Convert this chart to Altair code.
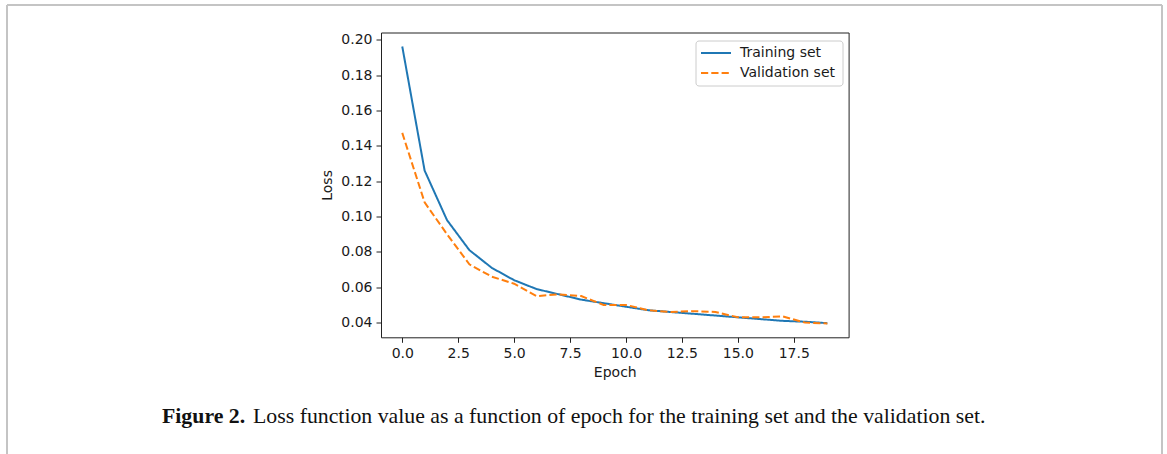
import altair as alt
import pandas as pd

epochs = list(range(20))
training = [0.1962, 0.126, 0.098, 0.081, 0.071, 0.064, 0.059, 0.056, 0.053, 0.051,
            0.049, 0.047, 0.046, 0.045, 0.044, 0.043, 0.042, 0.041, 0.0405, 0.0397]
validation = [0.1473, 0.108, 0.090, 0.073, 0.066, 0.062, 0.055, 0.056, 0.055, 0.050,
              0.050, 0.047, 0.046, 0.0465, 0.046, 0.043, 0.043, 0.0435, 0.040, 0.0395]
series = ["Training set", "Validation set"]
colors = ["#1f77b4", "#ff7f0e"]
dashes = [[1, 0], [7.2, 3.1]]
x_ticks = [0.0, 2.5, 5.0, 7.5, 10.0, 12.5, 15.0, 17.5]
y_ticks = [0.04, 0.06, 0.08, 0.10, 0.12, 0.14, 0.16, 0.18, 0.20]
caption_bold = "Figure 2."
caption_rest = "Loss function value as a function of epoch for the training set and the validation set."

df = pd.DataFrame({
    "Epoch": epochs * 2,
    "Loss": training + validation,
    "Series": [series[0]] * len(epochs) + [series[1]] * len(epochs),
})

W, H = 467.6, 304.8
PL, PT = 381, 32.5
TXT = "#1a1a1a"
FS = 14

lines = alt.Chart(df).mark_line(strokeWidth=2).encode(
    x=alt.X("Epoch:Q",
            scale=alt.Scale(domain=[-0.95, 19.95], nice=False, zero=False),
            axis=alt.Axis(values=x_ticks, format=".1f", title="Epoch",
                          titleY=28, titleBaseline="top")),
    y=alt.Y("Loss:Q",
            scale=alt.Scale(domain=[0.0317, 0.2041], nice=False, zero=False),
            axis=alt.Axis(values=y_ticks, format=".2f", title="Loss",
                          titleX=-47, titleY=H / 2, titleBaseline="bottom")),
    color=alt.Color("Series:N", scale=alt.Scale(domain=series, range=colors), legend=None),
    strokeDash=alt.StrokeDash("Series:N", scale=alt.Scale(domain=series, range=dashes),
                              legend=None),
)

one = pd.DataFrame({"a": [0]})
frame_color = "#c4c4c4"
top_rule = alt.Chart(one).mark_rule(color=frame_color, strokeWidth=2).encode(
    x=alt.value(-374), x2=alt.value(781), y=alt.value(-27.5))
left_rule = alt.Chart(one).mark_rule(color=frame_color, strokeWidth=2).encode(
    x=alt.value(-374), y=alt.value(-27.5), y2=alt.value(500))
right_rule = alt.Chart(one).mark_rule(color=frame_color, strokeWidth=2).encode(
    x=alt.value(781), y=alt.value(-27.5), y2=alt.value(500))

# legend (drawn by hand to match matplotlib's compact box)
LX, LY = 315, 8.5
leg_box = alt.Chart(one).mark_rect(
    fill="white", stroke="#cccccc", strokeWidth=1, cornerRadius=3).encode(
    x=alt.value(LX), x2=alt.value(LX + 147), y=alt.value(LY), y2=alt.value(LY + 45))
leg_layers = [leg_box]
for i, name in enumerate(series):
    yy = LY + 12 + 20 * i
    leg_layers.append(alt.Chart(one).mark_rule(
        color=colors[i], strokeWidth=2, strokeDash=dashes[i]).encode(
        x=alt.value(LX + 5), x2=alt.value(LX + 35), y=alt.value(yy)))
    leg_layers.append(alt.Chart(pd.DataFrame({"t": [name]})).mark_text(
        font="DejaVu Sans", fontSize=FS, align="left", baseline="middle", color=TXT).encode(
        x=alt.value(LX + 44), y=alt.value(yy), text="t:N"))

cap_df = pd.DataFrame({"b": [caption_bold], "r": [caption_rest]})
cap_bold = alt.Chart(cap_df).mark_text(
    font="Liberation Serif", fontSize=21.8, fontWeight="bold", align="left",
    baseline="alphabetic", color="#111").encode(
    x=alt.value(-219), y=alt.value(390), text="b:N")
cap_rest = alt.Chart(cap_df).mark_text(
    font="Liberation Serif", fontSize=21.8, align="left",
    baseline="alphabetic", color="#111").encode(
    x=alt.value(-128), y=alt.value(390), text="r:N")

chart = alt.layer(top_rule, left_rule, right_rule, lines, *leg_layers, cap_bold, cap_rest).properties(
    width=W, height=H,
    background="white",
    autosize=alt.AutoSizeParams(type="none"),
    padding={"left": PL, "top": PT, "right": 1167 - PL - W, "bottom": 454 - PT - H},
).configure_view(
    stroke="#222222", strokeWidth=1, fill="white"
).configure_axis(
    domain=False, grid=False, tickSize=5, tickWidth=1, tickColor="#222",
    labelFont="DejaVu Sans", labelFontSize=FS, labelColor=TXT, labelPadding=4,
    titleFont="DejaVu Sans", titleFontSize=FS, titleFontWeight="normal", titleColor=TXT,
)

chart.save("out.html", embed_options={"renderer": "svg", "actions": False})
